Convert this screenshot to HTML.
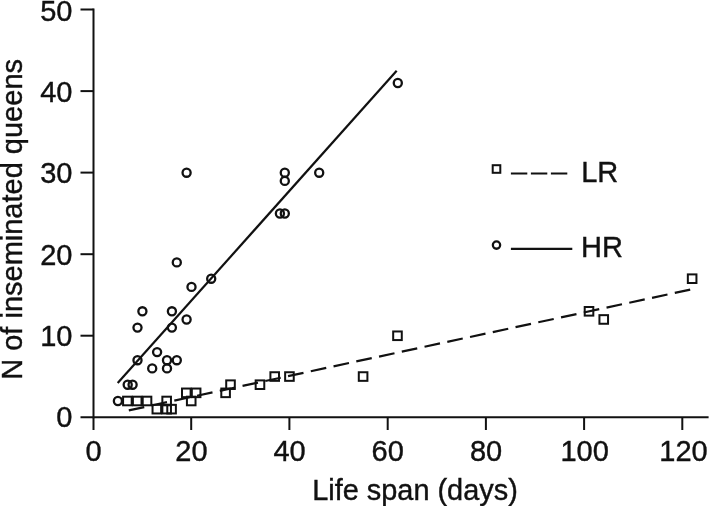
<!DOCTYPE html>
<html><head><meta charset="utf-8"><title>chart</title>
<style>
html,body{margin:0;padding:0;background:#fff;}
body{width:709px;height:506px;overflow:hidden;}
svg{display:block;filter:blur(0.45px);}
text{font-family:"Liberation Sans",sans-serif;fill:#111;stroke:#111;stroke-width:0.4px;}
</style></head><body>
<svg width="709" height="506" viewBox="0 0 709 506">
<rect width="709" height="506" fill="#fff"/>

<g stroke="#111" stroke-width="2" fill="none" stroke-linecap="butt">
<line x1="93.5" y1="8.5" x2="93.5" y2="418.3"/>
<line x1="80.5" y1="417.3" x2="708.6" y2="417.3"/>
<line x1="80.5" y1="335.7" x2="93.5" y2="335.7"/>
<line x1="80.5" y1="254.2" x2="93.5" y2="254.2"/>
<line x1="80.5" y1="172.6" x2="93.5" y2="172.6"/>
<line x1="80.5" y1="91.1" x2="93.5" y2="91.1"/>
<line x1="80.5" y1="9.5" x2="93.5" y2="9.5"/>
<line x1="93.5" y1="417.3" x2="93.5" y2="430.0"/>
<line x1="191.2" y1="417.3" x2="191.2" y2="430.0"/>
<line x1="289.4" y1="417.3" x2="289.4" y2="430.0"/>
<line x1="387.7" y1="417.3" x2="387.7" y2="430.0"/>
<line x1="485.9" y1="417.3" x2="485.9" y2="430.0"/>
<line x1="584.1" y1="417.3" x2="584.1" y2="430.0"/>
<line x1="682.3" y1="417.3" x2="682.3" y2="430.0"/>
</g>
<g font-size="29">
<text x="72.5" y="427.0" text-anchor="end">0</text>
<text x="72.5" y="345.8" text-anchor="end">10</text>
<text x="72.5" y="264.6" text-anchor="end">20</text>
<text x="72.5" y="183.4" text-anchor="end">30</text>
<text x="72.5" y="102.2" text-anchor="end">40</text>
<text x="72.5" y="21.0" text-anchor="end">50</text>
<text x="93.5" y="461.3" text-anchor="middle">0</text>
<text x="191.5" y="461.3" text-anchor="middle">20</text>
<text x="289.6" y="461.3" text-anchor="middle">40</text>
<text x="387.7" y="461.3" text-anchor="middle">60</text>
<text x="486.1" y="461.3" text-anchor="middle">80</text>
<text x="584.6" y="461.3" text-anchor="middle">100</text>
<text x="683.5" y="461.3" text-anchor="middle">120</text>
<text x="415.0" y="499.8" font-size="28.9" text-anchor="middle">Life span (days)</text>
<text transform="translate(21.5,219.4) rotate(-90)" text-anchor="middle">N of inseminated queens</text>
<text x="581.2" y="181.6">LR</text>
<text x="581.1" y="257.1">HR</text>
</g>
<g stroke="#111" stroke-width="2.2" fill="none">
<line x1="117.7" y1="383.05" x2="396.67" y2="70.82"/>
<line x1="128.8" y1="410.4" x2="690.2" y2="289.6" stroke-dasharray="15.8 7.47"/>
<line x1="510.9" y1="173.5" x2="567.3" y2="173.5" stroke-dasharray="16.4 3.6"/>
<line x1="510.9" y1="248.9" x2="572.3" y2="248.9"/>
<g stroke-width="2.3">
<rect x="123.08" y="396.69" width="8.6" height="8.6" stroke-width="2"/>
<rect x="132.90" y="396.69" width="8.6" height="8.6" stroke-width="2"/>
<rect x="142.72" y="396.69" width="8.6" height="8.6" stroke-width="2"/>
<rect x="152.54" y="404.85" width="8.6" height="8.6" stroke-width="2"/>
<rect x="162.36" y="404.85" width="8.6" height="8.6" stroke-width="2"/>
<rect x="167.28" y="404.85" width="8.6" height="8.6" stroke-width="2"/>
<rect x="162.36" y="396.69" width="8.6" height="8.6" stroke-width="2"/>
<rect x="182.01" y="388.54" width="8.6" height="8.6" stroke-width="2"/>
<rect x="191.83" y="388.54" width="8.6" height="8.6" stroke-width="2"/>
<rect x="186.92" y="396.69" width="8.6" height="8.6" stroke-width="2"/>
<rect x="221.30" y="388.54" width="8.6" height="8.6" stroke-width="2"/>
<rect x="226.21" y="380.39" width="8.6" height="8.6" stroke-width="2"/>
<rect x="255.67" y="380.39" width="8.6" height="8.6" stroke-width="2"/>
<rect x="270.41" y="372.24" width="8.6" height="8.6" stroke-width="2"/>
<rect x="285.14" y="372.24" width="8.6" height="8.6" stroke-width="2"/>
<rect x="358.80" y="372.24" width="8.6" height="8.6" stroke-width="2"/>
<rect x="393.18" y="331.47" width="8.6" height="8.6" stroke-width="2"/>
<rect x="584.71" y="307.01" width="8.6" height="8.6" stroke-width="2"/>
<rect x="599.44" y="315.16" width="8.6" height="8.6" stroke-width="2"/>
<rect x="687.84" y="274.40" width="8.6" height="8.6" stroke-width="2"/>
<rect x="492.70" y="165.20" width="7.6" height="7.6" stroke-width="2"/>
<circle cx="117.9" cy="401.0" r="4.05"/>
<circle cx="127.7" cy="384.7" r="4.05"/>
<circle cx="132.6" cy="384.7" r="4.05"/>
<circle cx="137.5" cy="360.2" r="4.05"/>
<circle cx="137.5" cy="327.6" r="4.05"/>
<circle cx="142.4" cy="311.3" r="4.05"/>
<circle cx="152.2" cy="368.4" r="4.05"/>
<circle cx="157.1" cy="352.1" r="4.05"/>
<circle cx="167.0" cy="368.4" r="4.05"/>
<circle cx="167.0" cy="360.2" r="4.05"/>
<circle cx="176.8" cy="360.2" r="4.05"/>
<circle cx="171.9" cy="327.6" r="4.05"/>
<circle cx="171.9" cy="311.3" r="4.05"/>
<circle cx="176.8" cy="262.4" r="4.05"/>
<circle cx="186.6" cy="319.5" r="4.05"/>
<circle cx="191.5" cy="286.9" r="4.05"/>
<circle cx="211.2" cy="278.7" r="4.05"/>
<circle cx="186.6" cy="172.7" r="4.05"/>
<circle cx="279.9" cy="213.5" r="4.05"/>
<circle cx="284.8" cy="213.5" r="4.05"/>
<circle cx="284.8" cy="180.9" r="4.05"/>
<circle cx="284.8" cy="172.7" r="4.05"/>
<circle cx="319.2" cy="172.7" r="4.05"/>
<circle cx="397.8" cy="83.0" r="4.05"/>
<circle cx="496.5" cy="245.1" r="3.65"/>
</g></g>
</svg></body></html>
